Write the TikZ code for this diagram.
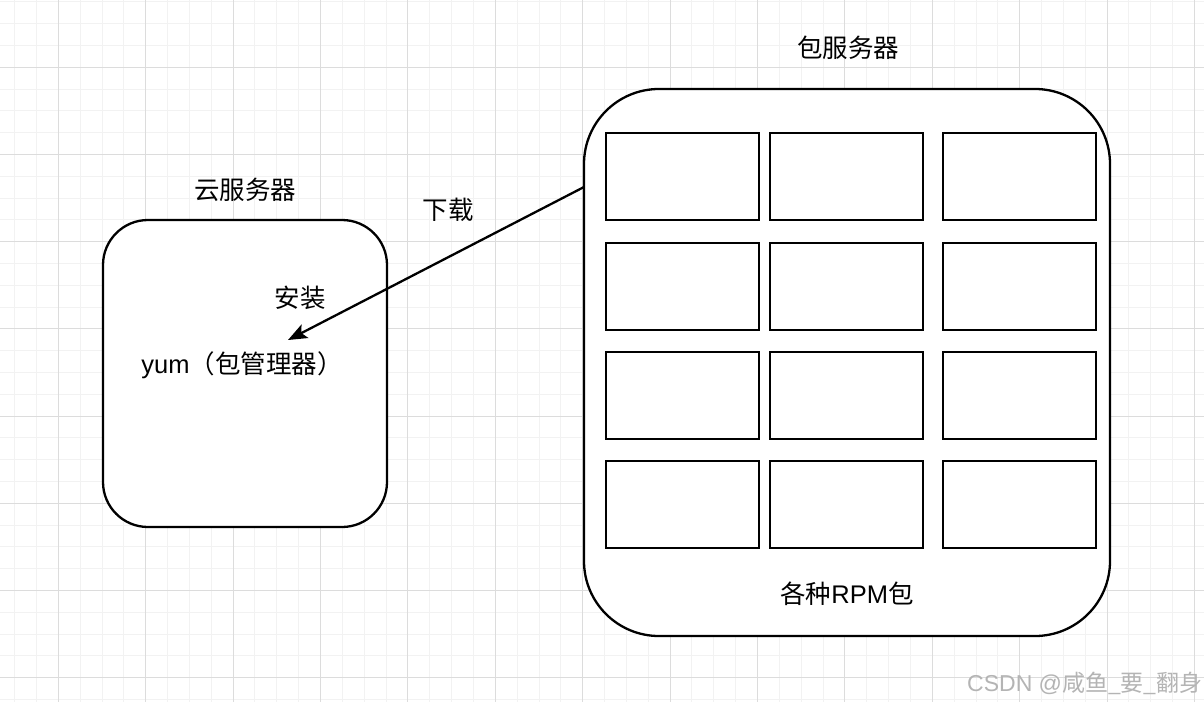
\documentclass[tikz,border=0pt]{standalone}
\usepackage{fontspec}
\setmainfont{Noto Sans CJK SC}
\newfontfamily\latf{Liberation Sans}
\usetikzlibrary{arrows.meta}
\definecolor{minorgrid}{HTML}{F2F2F2}
\definecolor{majorgrid}{HTML}{DCDCDC}
\definecolor{wm}{HTML}{B4B4B4}
\tikzset{
  box/.style={draw=black, line width=2.3pt, fill=white, inner sep=0pt, outer sep=0pt},
  cell/.style={draw=black, line width=2.3pt, fill=white, inner sep=0pt, outer sep=0pt,
    minimum width=153pt, minimum height=87pt},
  lbl/.style={font=\fontsize{25.5}{30}\selectfont, inner sep=0pt, text=black},
  conn/.style={line width=2.3pt, draw=black, -{Stealth[length=19pt,width=15pt,inset=4pt]}}
}
\begin{document}
\begin{tikzpicture}[x=1pt,y=-1pt]
\useasboundingbox (0,0) rectangle (1204,702);
\fill[white] (0,0) rectangle (1204,702);
% grid
\foreach \i in {-3,...,52} {
  \pgfmathsetmacro\xx{58.3+\i*21.85}
  \draw[minorgrid, line width=1pt] (\xx,0) -- (\xx,702);
}
\foreach \j in {-3,...,29} {
  \pgfmathsetmacro\yy{67.3+\j*21.8}
  \draw[minorgrid, line width=1pt] (0,\yy) -- (1204,\yy);
}
\foreach \i in {0,...,13} {
  \pgfmathsetmacro\xx{58.3+\i*87.4}
  \draw[majorgrid, line width=1pt] (\xx,0) -- (\xx,702);
}
\foreach \j in {0,...,7} {
  \pgfmathsetmacro\yy{67.3+\j*87.2}
  \draw[majorgrid, line width=1pt] (0,\yy) -- (1204,\yy);
}
% cloud server
\node[box, rounded corners=45pt, minimum width=284pt, minimum height=307pt] (cloud) at (245,373.5) {};
\node[lbl] (cloudlbl) at (245,190) {云服务器};
\node[lbl] (yum) at (242,365) {{\latf yum}（包管理器）};
\node[lbl] (install) at (300,298) {安装};
% package server
\node[box, rounded corners=75pt, minimum width=526pt, minimum height=547pt] (pkg) at (847,362.5) {};
\node[lbl] (pkglbl) at (848,48) {包服务器};
\node[lbl] (rpm) at (847,594) {各种{\latf RPM}包};
\foreach \c/\x in {1/682.5,2/846.5,3/1019.5} {
  \foreach \r/\y in {1/176.5,2/286.5,3/395.5,4/504.5} {
    \node[cell] (c\r\c) at (\x,\y) {};
  }
}
% connector
\coordinate (from) at (584,187);
\coordinate (to) at (288,340);
\draw[conn] (from) -- (to);
\node[lbl] (download) at (448,210) {下载};
% watermark
\node[font=\fontsize{23}{27}\selectfont, text=wm, inner sep=0pt] (wmark) at (1085,683) {{\latf CSDN @}咸鱼\_要\_翻身};
\end{tikzpicture}
\end{document}
